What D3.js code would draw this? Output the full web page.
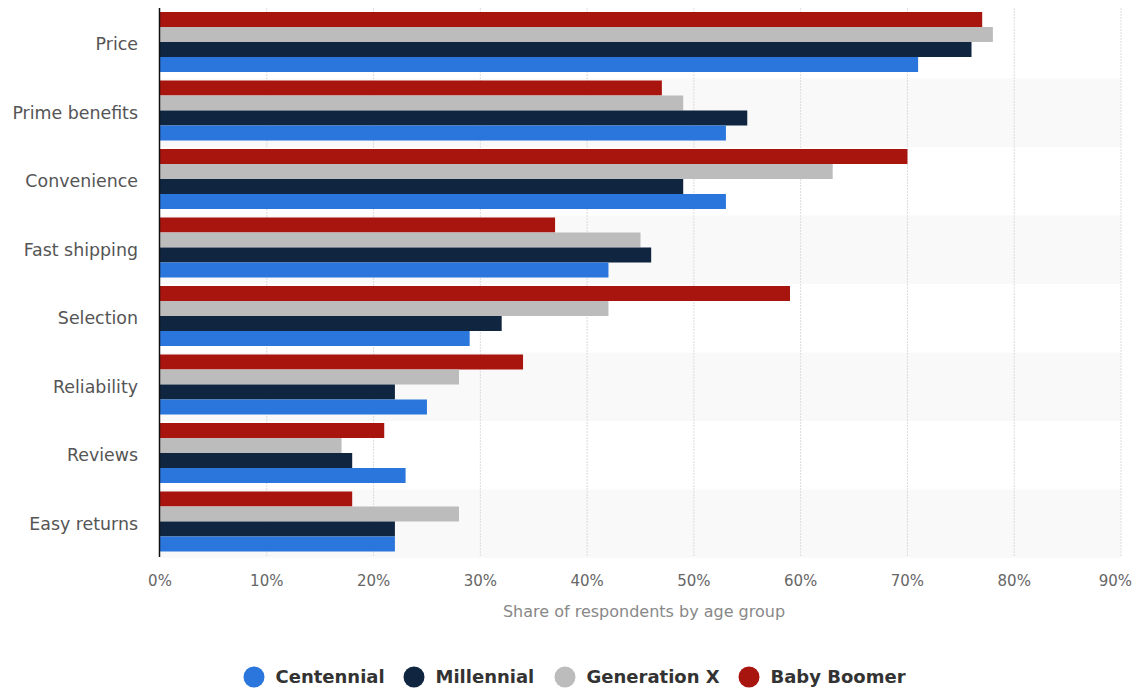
<!DOCTYPE html>
<html><head><meta charset="utf-8">
<script src="https://cdn.jsdelivr.net/npm/d3@7"></script>
<style>body{margin:0;background:#fff}svg{display:block}</style>
</head><body><svg id="c" width="1134" height="689"></svg>
<script>
const categories = ["Price","Prime benefits","Convenience","Fast shipping","Selection","Reliability","Reviews","Easy returns"];
const seriesNames = ["Baby Boomer","Generation X","Millennial","Centennial"];
const babyBoomer = [77,47,70,37,59,34,21,18];
const generationX = [78,49,63,45,42,28,17,28];
const millennial = [76,55,49,46,32,22,18,22];
const centennial = [71,53,53,42,29,25,23,22];
const xTicks = [0,10,20,30,40,50,60,70,80,90];
const legendOrder = ["Centennial","Millennial","Generation X","Baby Boomer"];
const colors = {"Centennial":"#2a76dc","Millennial":"#0f2540","Generation X":"#bcbcbc","Baby Boomer":"#a8150f"};
const seriesValues = {"Baby Boomer":babyBoomer,"Generation X":generationX,"Millennial":millennial,"Centennial":centennial};

const svg = d3.select("#c");
const font = "'DejaVu Sans', sans-serif";
const x = d3.scaleLinear().domain([0,90]).range([160,1121]);
const y = d3.scaleBand().domain(categories).range([10,558]).padding(0);
const inner = d3.scaleBand().domain(seriesNames).range([2,62]).padding(0);

// alternating bands
svg.append("g").selectAll("rect").data(categories).join("rect")
  .attr("x",160).attr("width",x(90)-160)
  .attr("y",d=>y(d)).attr("height",y.bandwidth())
  .attr("fill",(d,i)=> i%2===1 ? "#f9f9f9" : "#fff");

// gridlines
svg.append("g").selectAll("line").data(xTicks.slice(1)).join("line")
  .attr("x1",d=>x(d)).attr("x2",d=>x(d)).attr("y1",8).attr("y2",557)
  .attr("stroke","#dcdcdc").attr("stroke-width",1).attr("stroke-dasharray","2,1");

// bars
const g = svg.append("g").selectAll("g").data(categories).join("g")
  .attr("transform",d=>`translate(0,${y(d)})`);
g.selectAll("rect").data((c,i)=>seriesNames.map(s=>({s,v:seriesValues[s][i]}))).join("rect")
  .attr("x",x(0)).attr("y",d=>inner(d.s)).attr("height",inner.bandwidth())
  .attr("width",d=>x(d.v)-x(0)).attr("fill",d=>colors[d.s]);

// y axis line
svg.append("line").attr("x1",159.5).attr("x2",159.5).attr("y1",8).attr("y2",557)
  .attr("stroke","#111").attr("stroke-width",1.5);

// category labels
svg.append("g").selectAll("text").data(categories).join("text")
  .attr("x",138).attr("y",d=>y(d)+y.bandwidth()/2).attr("dy","0.35em")
  .attr("text-anchor","end").attr("font-family",font).attr("font-size",17.4)
  .attr("fill","#555").text(d=>d);

// x tick labels
svg.append("g").selectAll("text").data(xTicks).join("text")
  .attr("x",d=> d===90 ? 1132 : x(d)).attr("y",581).attr("dy","0.35em")
  .attr("text-anchor",d=> d===90 ? "end" : "middle").attr("font-family",font).attr("font-size",15)
  .attr("fill","#666").text(d=>d+"%");

// axis title
svg.append("text").attr("x",644).attr("y",611).attr("dy","0.35em")
  .attr("text-anchor","middle").attr("font-family",font).attr("font-size",16)
  .attr("fill","#888").text("Share of respondents by age group");

// legend
const legendX = {"Centennial":254,"Millennial":414,"Generation X":565,"Baby Boomer":749};
const lg = svg.append("g").selectAll("g").data(legendOrder).join("g")
  .attr("transform",d=>`translate(${legendX[d]},677)`);
lg.append("circle").attr("r",10.5).attr("fill",d=>colors[d]);
lg.append("text").attr("x",21.5).attr("dy","0.35em").attr("font-family",font)
  .attr("font-size",18).attr("font-weight","bold").attr("fill","#333").text(d=>d);
</script></body></html>
